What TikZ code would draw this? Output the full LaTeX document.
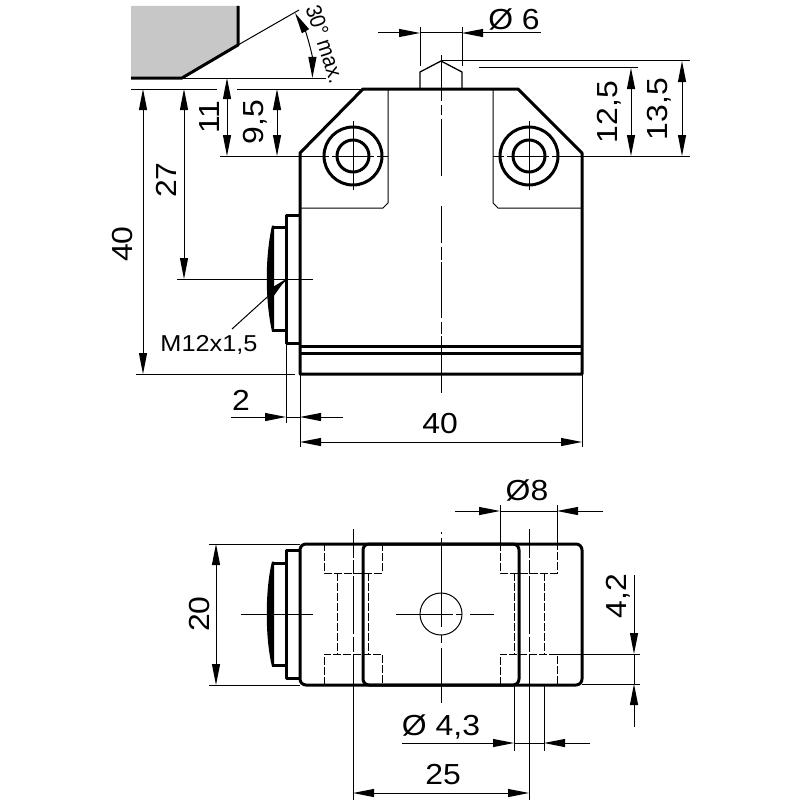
\documentclass[tikz,border=0pt]{standalone}
\usepackage{fontspec}
\setmainfont[FakeStretch=1.1]{Liberation Sans}
\newfontfamily\plainfont[FakeStretch=0.92]{Liberation Sans}
\usetikzlibrary{arrows.meta}
\tikzset{
  thick line/.style={line width=3pt,line join=round},
  thin line/.style={line width=1pt},
  medium line/.style={line width=1.3pt},
  hidden line/.style={line width=0.9pt,dash pattern=on 8pt off 2pt},
  dimtip/.style={-{Triangle[length=21pt,width=8pt]}},
  dimboth/.style={{Triangle[length=21pt,width=8pt]}-{Triangle[length=21pt,width=8pt]},line width=1pt},
  dimone/.style={dimtip,line width=1pt},
  big/.style={font=\fontsize{29}{29}\selectfont,inner sep=0pt},
  small/.style={font=\fontsize{23}{23}\selectfont,inner sep=0pt},
}
\begin{document}
\begin{tikzpicture}[x=1pt,y=-1pt]
\useasboundingbox (0,0) rectangle (800,800);
% wedge
\fill[black!22] (131,6) -- (238,6) -- (238,45) -- (182,78) -- (131,78) -- cycle;
\draw[thick line] (238,6) -- (238,45) -- (182,78) -- (131,78);
\draw[thin line] (238,45) -- (299,10);
\draw[thin line] (182,78) -- (326,78);
\draw[{Triangle[length=21pt,width=8pt]}-{Triangle[length=21pt,width=8pt]},line width=1pt] (295,13) arc[start angle=-30,end angle=0,radius=130];
\node[inner sep=0pt,font=\plainfont\fontsize{22}{22}\selectfont,rotate=-72] (tmax) at (325,44) {30° max.};
% top view extension lines
\draw[thin line] (131,89) -- (217,89) (237,89) -- (363,89);
\draw[thin line] (220,156) -- (300,156);
\draw[thin line] (582,156) -- (690,156);
\draw[thin line] (441,61) -- (690,61);
\draw[thin line] (479,68) -- (638,68);
\draw[thin line] (177,279) -- (313,279);
\draw[thin line] (136,374) -- (295,374);
% body
\draw[thick line] (363,89) -- (518,89) -- (582,153) -- (582,374) -- (300,374) -- (300,153) -- cycle;
\draw[thick line] (300,346.5) -- (582,346.5) (300,353) -- (582,353);
\draw[thin line] (388,89) -- (388,203) -- (383,208) -- (300,208);
\draw[thin line] (493,89) -- (493,203) -- (498,208) -- (582,208);
% holes
\draw[thick line] (353,156) circle[radius=29] (353,156) circle[radius=16];
\draw[thick line] (529,156) circle[radius=29] (529,156) circle[radius=16];
\draw[thin line] (353,121) -- (353,190);
\draw[thin line] (529,121) -- (529,190);
\draw[thin line] (300,156) -- (329,156) (332,156) -- (374,156) (377,156) -- (388,156);
\draw[thin line] (493,156) -- (504,156) (507,156) -- (549,156) (552,156) -- (582,156);
% plunger
\draw[medium line] (420,89) -- (420,72) -- (441,61) -- (462,72) -- (462,89);
% flange and button
\draw[thick line] (300,215) -- (286,215) -- (286,343) -- (300,343);
\draw[thick line] (286,227) -- (272,227) (272,330) -- (286,330);
\fill (272,225.5) .. controls (265,258) and (265,299) .. (272,331.5) -- (274,331.5) -- (274,225.5) -- cycle;
\fill (286,279) -- (273,287) -- (273,297) -- cycle;
% centre line
\draw[thin line] (441,55) -- (441,101) (441,105) -- (441,115) (441,119) -- (441,176) (441,206) -- (441,243) (441,247) -- (441,260) (441,262) -- (441,318) (441,322) -- (441,334) (441,336) -- (441,393);
% top dimensions
\draw[thin line] (420,27) -- (420,66) (462,27) -- (462,66);
\draw[thin line] (420,33) -- (462,33);
\draw[dimone] (378,33) -- (420,33);
\draw[dimone] (541,33) -- (462,33);
\node[big] (d6) at (514,19) {Ø 6};
\draw[dimboth] (631,68) -- (631,156);
\node[big,rotate=90] (d125) at (609,112) {12,5};
\draw[dimboth] (682,61) -- (682,156);
\node[big,rotate=90] (d135) at (659,109) {13,5};
\draw[dimboth] (227,78) -- (227,156);
\node[big,rotate=90] (d11) at (210,117) {11};
\draw[dimboth] (277,89) -- (277,156);
\node[big,rotate=90] (d95) at (255,122) {9,5};
\draw[dimboth] (184,89) -- (184,279);
\node[big,rotate=90] (d27) at (166,180) {27};
\draw[dimboth] (143,89) -- (143,374);
\node[big,rotate=90] (d40a) at (123,244) {40};
% M12
\draw[thin line] (232,329) -- (286,280);
\node[small] (m12) at (209,345) {M12x1,5};
% dim 2
\draw[thin line] (286,343) -- (286,423) (300,374) -- (300,447) (582,374) -- (582,447);
\draw[thin line] (286,417) -- (300,417);
\draw[dimone] (231,417) -- (286,417);
\draw[dimone] (343,417) -- (300,417);
\node[big] (d2) at (241,400) {2};
\draw[dimboth] (300,442) -- (582,442);
\node[big] (d40b) at (440,424) {40};
% bottom view: extension lines
\draw[thin line] (209,544) -- (300,544) (209,685) -- (300,685);
\draw[dimboth] (216,544) -- (216,685);
\node[big,rotate=90] (d20) at (200,614) {20};
\draw[thin line] (557,654) -- (640,654) (582,684) -- (640,684);
% hidden
\draw[hidden line] (324,543) -- (324,573) -- (382,573) -- (382,543);
\draw[hidden line] (324,685) -- (324,654) -- (382,654) -- (382,685);
\draw[hidden line] (337,573) -- (337,654) (368,573) -- (368,654);
\draw[hidden line] (500,543) -- (500,573) -- (557,573) -- (557,543);
\draw[hidden line] (500,685) -- (500,654) -- (557,654) -- (557,685);
\draw[hidden line] (514,573) -- (514,654) (544,573) -- (544,654);
% bodies
\draw[thick line,rounded corners=6pt] (300,544) rectangle (582,685);
\draw[thick line,rounded corners=6pt] (363,544) rectangle (519,685);
\draw[thick line] (300,550) -- (286,550) -- (286,678) -- (300,678);
\draw[thick line] (286,563) -- (272,563) (272,665) -- (286,665);
\fill (272,561.5) .. controls (265,590) and (265,638) .. (272,666.5) -- (274,666.5) -- (274,561.5) -- cycle;
% bottom centre lines
\draw[thin line] (241,614) -- (313,614);
\draw[thin line] (396,614) -- (453,614) (456,614) -- (462,614) (470,614) -- (494,614);
\draw[thin line] (441,614) circle[radius=21];
\draw[thin line] (441,532) -- (441,534) (441,538) -- (441,627) (441,635) -- (441,643) (441,648) -- (441,703);
\draw[thin line] (353,529) -- (353,558) (353,560) -- (353,574) (353,576) -- (353,634) (353,637) -- (353,652) (353,655) -- (353,800);
\draw[thin line] (529,529) -- (529,558) (529,560) -- (529,574) (529,576) -- (529,634) (529,637) -- (529,652) (529,655) -- (529,800);
\draw[thin line] (514,685) -- (514,751) (544,685) -- (544,751);
% bottom dims
\draw[thin line] (500,505) -- (500,543) (557,505) -- (557,543);
\draw[thin line] (500,511) -- (557,511);
\draw[dimone] (455,511) -- (500,511);
\draw[dimone] (603,511) -- (557,511);
\node[big] (d8) at (527,490) {Ø8};
\draw[thin line] (634,654) -- (634,684);
\draw[dimone] (634,575) -- (634,654);
\draw[dimone] (634,727) -- (634,684);
\node[big,rotate=90] (d42) at (618,596) {4,2};
\draw[thin line] (514,743) -- (544,743);
\draw[dimone] (402,743) -- (514,743);
\draw[dimone] (590,743) -- (544,743);
\node[big] (d43) at (441,727) {Ø 4,3};
\draw[dimboth] (353,793) -- (529,793);
\node[big] (d25) at (443,775) {25};
\end{tikzpicture}
\end{document}
